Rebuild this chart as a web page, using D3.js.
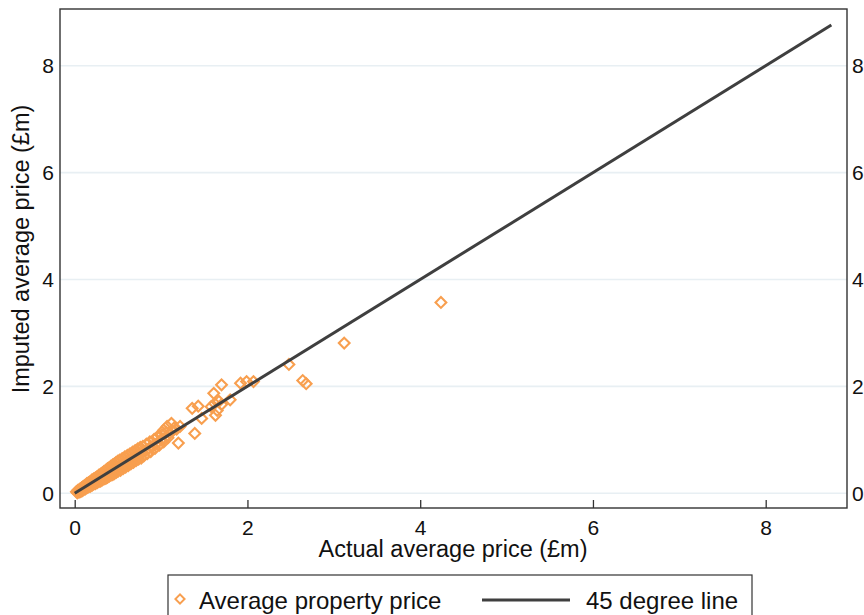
<!DOCTYPE html>
<html>
<head>
<meta charset="utf-8">
<script src="https://cdn.jsdelivr.net/npm/d3@7"></script>
<style>
  html, body { margin: 0; padding: 0; background: #fff; }
  svg { display: block; font-family: "Liberation Sans", Arial, sans-serif; }
</style>
</head>
<body>
<svg id="chart" width="864" height="615"></svg>
<script>
// Tick values shared by both axes (£m)
const xTicks = [0, 2, 4, 6, 8];
const yTicks = [0, 2, 4, 6, 8];

// Actual vs imputed average property prices (£m), one pair per area
const actualPrice = [
  0.02, 0.03, 0.04, 0.05, 0.06, 0.06, 0.07, 0.08, 0.08, 0.09, 0.10, 0.10, 0.11, 0.12, 0.12,
  0.13, 0.14, 0.14, 0.15, 0.16, 0.16, 0.17, 0.18, 0.18, 0.19, 0.20, 0.20, 0.21, 0.22, 0.22,
  0.23, 0.24, 0.24, 0.25, 0.26, 0.26, 0.27, 0.28, 0.28, 0.29, 0.30, 0.30,
  0.31, 0.32, 0.32, 0.33, 0.34, 0.34, 0.35, 0.36, 0.36, 0.37, 0.38, 0.38, 0.39, 0.40, 0.40,
  0.41, 0.42, 0.42, 0.43, 0.44, 0.44, 0.45, 0.46, 0.46, 0.47, 0.48, 0.48, 0.49, 0.50, 0.50,
  0.51, 0.52, 0.53, 0.54, 0.55, 0.56, 0.57, 0.58, 0.59, 0.60,
  0.61, 0.62, 0.63, 0.64, 0.65, 0.66, 0.67, 0.68, 0.69, 0.70, 0.71, 0.72, 0.73, 0.74, 0.75,
  0.76, 0.77, 0.78, 0.79, 0.80, 0.82, 0.83, 0.84, 0.86, 0.87, 0.88, 0.90, 0.92, 0.93, 0.95,
  0.96, 0.98, 1.00,
  1.01, 1.03, 1.03, 1.04, 1.06, 1.07, 1.08, 1.10, 1.12, 1.13, 1.15, 1.18, 1.20, 1.22,
  1.36, 1.39, 1.43, 1.47, 1.58, 1.61, 1.62, 1.63, 1.65, 1.67, 1.70, 1.70, 1.80, 1.92, 1.99,
  2.07, 2.48, 2.64, 2.68, 3.12, 4.24
];
const imputedPrice = [
  0.03, 0.01, 0.06, 0.02, 0.08, 0.04, 0.03, 0.10, 0.06, 0.05, 0.13, 0.07, 0.09, 0.15, 0.08,
  0.11, 0.18, 0.10, 0.13, 0.20, 0.12, 0.14, 0.22, 0.13, 0.17, 0.25, 0.15, 0.19, 0.27, 0.17,
  0.21, 0.29, 0.18, 0.23, 0.31, 0.20, 0.25, 0.34, 0.22, 0.27, 0.36, 0.23,
  0.29, 0.38, 0.25, 0.31, 0.41, 0.27, 0.33, 0.43, 0.28, 0.35, 0.46, 0.30, 0.37, 0.48, 0.32,
  0.39, 0.51, 0.34, 0.41, 0.53, 0.35, 0.43, 0.55, 0.37, 0.45, 0.58, 0.39, 0.47, 0.60, 0.41,
  0.49, 0.62, 0.43, 0.52, 0.65, 0.46, 0.55, 0.68, 0.49, 0.58,
  0.71, 0.52, 0.61, 0.74, 0.55, 0.64, 0.77, 0.58, 0.67, 0.80, 0.61, 0.70, 0.83, 0.64, 0.73,
  0.86, 0.66, 0.76, 0.88, 0.70, 0.80, 0.92, 0.74, 0.84, 0.96, 0.78, 0.88, 1.01, 0.84, 0.93,
  1.06, 0.90, 1.00,
  1.10, 0.96, 1.18, 1.02, 1.14, 1.25, 1.04, 1.13, 1.31, 1.16, 1.22, 1.20, 0.94, 1.25,
  1.59, 1.12, 1.63, 1.40, 1.62, 1.87, 1.68, 1.46, 1.55, 1.72, 2.03, 1.66, 1.75, 2.06, 2.09,
  2.09, 2.41, 2.11, 2.05, 2.81, 3.57
];
// End point of the 45 degree reference line
const lineRange = [0, 8.76];

const legendLabels = ["Average property price", "45 degree line"];

const points = actualPrice.map((v, i) => ({ x: v, y: imputedPrice[i] }));

const orange = "#f89f4f";
const lineColor = "#3f3f3f";
const textColor = "#111";
const font = "Liberation Sans, Arial, sans-serif";

const svg = d3.select("#chart");

const frame = { left: 60, top: 9, right: 847, bottom: 508 };

const x = d3.scaleLinear().domain([0, 8]).range([74.7, 765.7]);
const y = d3.scaleLinear().domain([0, 8]).range([493.3, 65.7]);

// Grid lines
svg.append("g")
  .selectAll("line")
  .data(yTicks)
  .join("line")
  .attr("x1", frame.left).attr("x2", frame.right)
  .attr("y1", d => y(d)).attr("y2", d => y(d))
  .attr("stroke", "#e8eff3").attr("stroke-width", 1.6);

// Bottom axis: inward ticks, labels below
const xAxis = d3.axisBottom(x).tickValues(xTicks).tickSize(-8).tickPadding(12).tickFormat(d3.format("d"));
const gx = svg.append("g").attr("transform", `translate(0,${frame.bottom})`).call(xAxis);
gx.select(".domain").remove();
gx.selectAll(".tick line").attr("stroke", "#333").attr("stroke-width", 1.3);
gx.selectAll(".tick text").attr("font-size", 21).attr("fill", textColor).attr("font-family", font);

// Left and right axes: labels only
const yAxisL = d3.axisLeft(y).tickValues(yTicks).tickSize(0).tickPadding(6).tickFormat(d3.format("d"));
const gyl = svg.append("g").attr("transform", `translate(${frame.left},0)`).call(yAxisL);
gyl.select(".domain").remove();
gyl.selectAll(".tick text").attr("font-size", 21).attr("fill", textColor).attr("font-family", font);

const yAxisR = d3.axisRight(y).tickValues(yTicks).tickSize(0).tickPadding(5).tickFormat(d3.format("d"));
const gyr = svg.append("g").attr("transform", `translate(${frame.right},0)`).call(yAxisR);
gyr.select(".domain").remove();
gyr.selectAll(".tick text").attr("font-size", 21).attr("fill", textColor).attr("font-family", font);

// Plot frame
svg.append("rect")
  .attr("x", frame.left).attr("y", frame.top)
  .attr("width", frame.right - frame.left).attr("height", frame.bottom - frame.top)
  .attr("fill", "none").attr("stroke", "#333").attr("stroke-width", 1.4);

// Scatter of hollow diamonds
const diamond = d3.symbol().type(d3.symbolSquare).size(58);
svg.append("g")
  .selectAll("path")
  .data(points)
  .join("path")
  .attr("d", diamond)
  .attr("transform", d => `translate(${x(d.x)},${y(d.y)}) rotate(45)`)
  .attr("fill", "none")
  .attr("stroke", orange)
  .attr("stroke-width", 2.1);

// 45 degree line
svg.append("line")
  .attr("x1", x(lineRange[0])).attr("y1", y(lineRange[0]))
  .attr("x2", x(lineRange[1])).attr("y2", y(lineRange[1]))
  .attr("stroke", lineColor).attr("stroke-width", 3);

// Axis titles
svg.append("text")
  .attr("x", 453).attr("y", 557)
  .attr("text-anchor", "middle").attr("font-size", 23.5).attr("fill", textColor)
  .text("Actual average price (£m)");

svg.append("text")
  .attr("transform", "translate(29,249) rotate(-90)")
  .attr("text-anchor", "middle").attr("font-size", 23.5).attr("fill", textColor)
  .text("Imputed average price (£m)");

// Legend
const lg = svg.append("g");
lg.append("rect")
  .attr("x", 168).attr("y", 575).attr("width", 584).attr("height", 60)
  .attr("fill", "#fff").attr("stroke", "#333").attr("stroke-width", 1.2);
lg.append("path")
  .attr("d", d3.symbol().type(d3.symbolSquare).size(42))
  .attr("transform", "translate(180,599) rotate(45)")
  .attr("fill", "none").attr("stroke", orange).attr("stroke-width", 2);
lg.append("text")
  .attr("x", 199).attr("y", 609).attr("font-size", 24).attr("fill", textColor)
  .text(legendLabels[0]);
lg.append("line")
  .attr("x1", 482).attr("x2", 570).attr("y1", 600).attr("y2", 600)
  .attr("stroke", lineColor).attr("stroke-width", 3);
lg.append("text")
  .attr("x", 586).attr("y", 609).attr("font-size", 24).attr("fill", textColor)
  .text(legendLabels[1]);
</script>
</body>
</html>
